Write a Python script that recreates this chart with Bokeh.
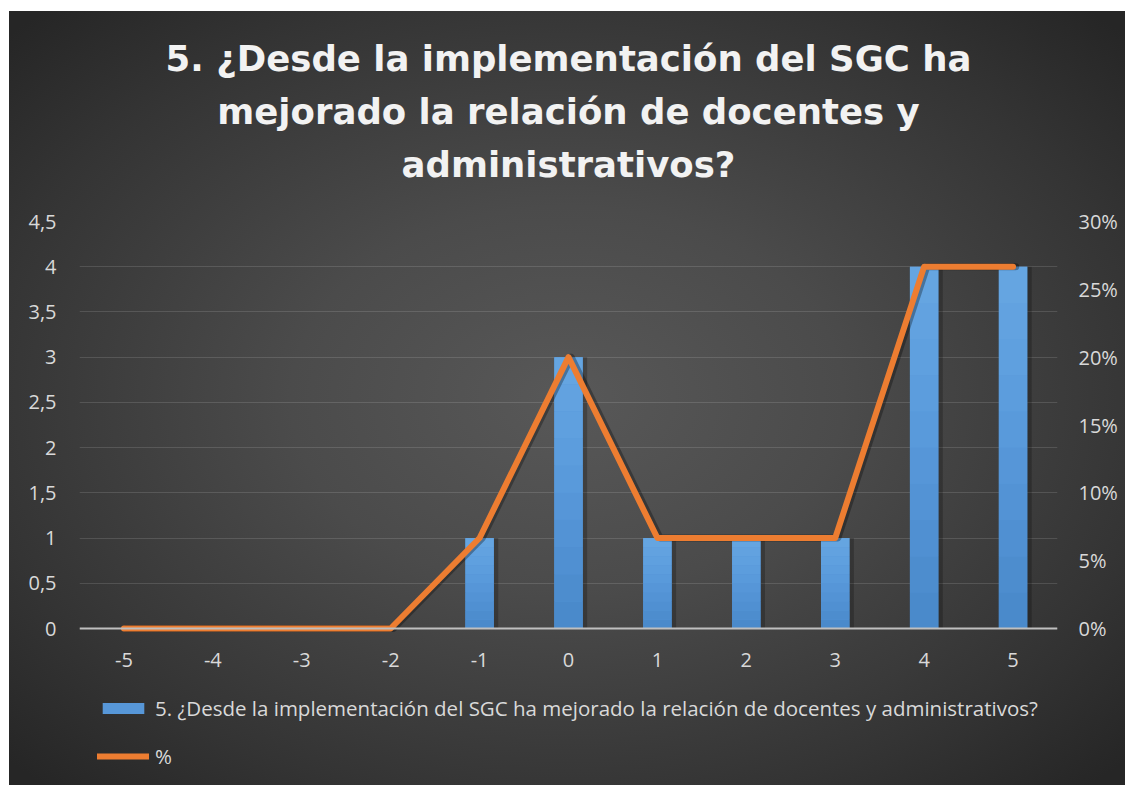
from bokeh.plotting import figure
from bokeh.models import (FactorRange, Range1d, LinearAxis, FixedTicker, NumeralTickFormatter,
                          Legend, LegendItem, Title, Spacer, ColumnDataSource)
from bokeh.transform import dodge
from bokeh.layouts import column, row
from bokeh.embed import file_html
from bokeh.resources import INLINE

# ---- data ----
categories = ["-5", "-4", "-3", "-2", "-1", "0", "1", "2", "3", "4", "5"]
counts = [0, 0, 0, 0, 1, 3, 1, 1, 1, 4, 4]
percents = [0.0, 0.0, 0.0, 0.0, 0.0667, 0.20, 0.0667, 0.0667, 0.0667, 0.2667, 0.2667]
left_ticks = [0, 0.5, 1, 1.5, 2, 2.5, 3, 3.5, 4, 4.5]
left_tick_labels = ["0", "0,5", "1", "1,5", "2", "2,5", "3", "3,5", "4", "4,5"]
right_ticks = [0, 0.05, 0.10, 0.15, 0.20, 0.25, 0.30]
title_lines = ["5. ¿Desde la implementación del SGC ha",
               "mejorado la relación de docentes y",
               "administrativos?"]
bar_label = "5. ¿Desde la implementación del SGC ha mejorado la relación de docentes y administrativos?"
line_label = "%"

FONT = "Open Sans"
TXT = "#d9d9d9"

# layout geometry (pixels)
FRAME_TOP_PAD = 210      # space above the plotting area for the title
VALUE_PX = 407           # pixel height of the 0..4.5 value band
BELOW_PX = 157           # band under the zero line for tick labels and legend
Y_MAX = 4.5
PCT_MAX = 0.30
y_start = -BELOW_PX * Y_MAX / VALUE_PX
pct_start = -BELOW_PX * PCT_MAX / VALUE_PX

src = ColumnDataSource(dict(x=categories, c=counts, p=percents))

p = figure(x_range=FactorRange(*categories, range_padding=0), y_range=Range1d(y_start, Y_MAX),
           width=1116, height=774, output_backend="svg", toolbar_location=None,
           title=None, min_border_left=70, min_border_right=68, min_border_top=FRAME_TOP_PAD,
           min_border_bottom=0)
p.background_fill_alpha = 0
p.border_fill_alpha = 0
p.outline_line_color = None
p.styles = {"background": "radial-gradient(ellipse farthest-corner at 50% 50%, #585858 0%, "
                          "#4b4b4b 35%, #343434 75%, #262626 97%)"}

p.extra_y_ranges = {"pct": Range1d(pct_start, PCT_MAX)}

# gap between plot and title block (blank title used as a spacer)
p.add_layout(Title(text=" ", text_font_size="1px", standoff=29, text_color="#3a3a3a"), "above")
# title lines, stacked outward from the plot (last line first)
for t in reversed(title_lines):
    tt = Title(text=t, align="center", text_font="DejaVu Sans", text_font_size="35.5px",
               text_font_style="bold", text_color="#f2f2f2", standoff=10, offset=4)
    p.add_layout(tt, "above")

# bar shadows
p.vbar(x=dodge("x", 0.025, range=p.x_range), top="c", bottom=0, width=0.37, source=src,
       fill_color="black", fill_alpha=0.22, line_color=None)
bars = p.vbar(x="x", top="c", bottom=0, width=0.32, source=src, fill_color="#5797d8",
              line_color=None)
# vertical shading of bars (bands scaled to each bar's height)
band_colors = ["#4a8acb", "#4d8dce", "#5090d2", "#5393d5", "#5696d8",
               "#599adb", "#5c9ddd", "#5fa0df", "#62a2e0", "#65a5e1"]
nb = len(band_colors)
for k, col in enumerate(band_colors):
    src_k = ColumnDataSource(dict(x=categories,
                                  b=[v * k / nb for v in counts],
                                  t=[v * (k + 1) / nb for v in counts]))
    p.vbar(x="x", top="t", bottom="b", width=0.32, source=src_k, fill_color=col,
           line_color=None)

# line shadow
p.line(x=dodge("x", 0.03, range=p.x_range), y="p", source=src, y_range_name="pct",
       line_color="black", line_alpha=0.3, line_width=7, line_join="round", line_cap="round")
ln = p.line(x="x", y="p", source=src, y_range_name="pct", line_color="#ed7d31",
            line_width=6, line_join="round", line_cap="round")

# axes
p.yaxis.ticker = FixedTicker(ticks=left_ticks)
p.yaxis.major_label_overrides = dict(zip(left_ticks, left_tick_labels))
p.yaxis.axis_line_color = None
p.yaxis.major_tick_line_color = None
p.yaxis.minor_tick_line_color = None
p.yaxis.major_label_standoff = 17
p.yaxis.major_label_text_font = FONT
p.yaxis.major_label_text_font_size = "20px"
p.yaxis.major_label_text_color = TXT

ax2 = LinearAxis(y_range_name="pct", ticker=FixedTicker(ticks=right_ticks),
                 formatter=NumeralTickFormatter(format="0%"))
ax2.axis_line_color = None
ax2.major_tick_line_color = None
ax2.minor_tick_line_color = None
ax2.major_label_standoff = 15
ax2.major_label_text_font = FONT
ax2.major_label_text_font_size = "20px"
ax2.major_label_text_color = TXT
p.add_layout(ax2, "right")

p.xaxis.fixed_location = 0
p.xaxis.axis_line_color = "#bfbfbf"
p.xaxis.axis_line_width = 2
p.xaxis.major_tick_line_color = None
p.xaxis.minor_tick_line_color = None
p.xaxis.major_label_standoff = 18
p.xaxis.major_label_text_font = FONT
p.xaxis.major_label_text_font_size = "20px"
p.xaxis.major_label_text_color = TXT

p.xgrid.grid_line_color = None
p.ygrid.grid_line_color = "white"
p.ygrid.grid_line_alpha = 0.13
p.ygrid.ticker = FixedTicker(ticks=left_ticks)

legend = Legend(items=[LegendItem(label=bar_label, renderers=[bars]),
                       LegendItem(label=line_label, renderers=[ln])],
                location=(18, 15), orientation="vertical",
                glyph_width=52, glyph_height=14, label_standoff=6, label_height=25,
                label_text_font=FONT, label_text_font_size="20.5px", label_text_color=TXT,
                background_fill_alpha=0, border_line_color=None,
                padding=0, margin=0, spacing=20)
p.add_layout(legend, "center")

layout = column(Spacer(height=11, width=10), row(Spacer(width=9, height=10), p))
open("out.html", "w").write(file_html(layout, INLINE))
